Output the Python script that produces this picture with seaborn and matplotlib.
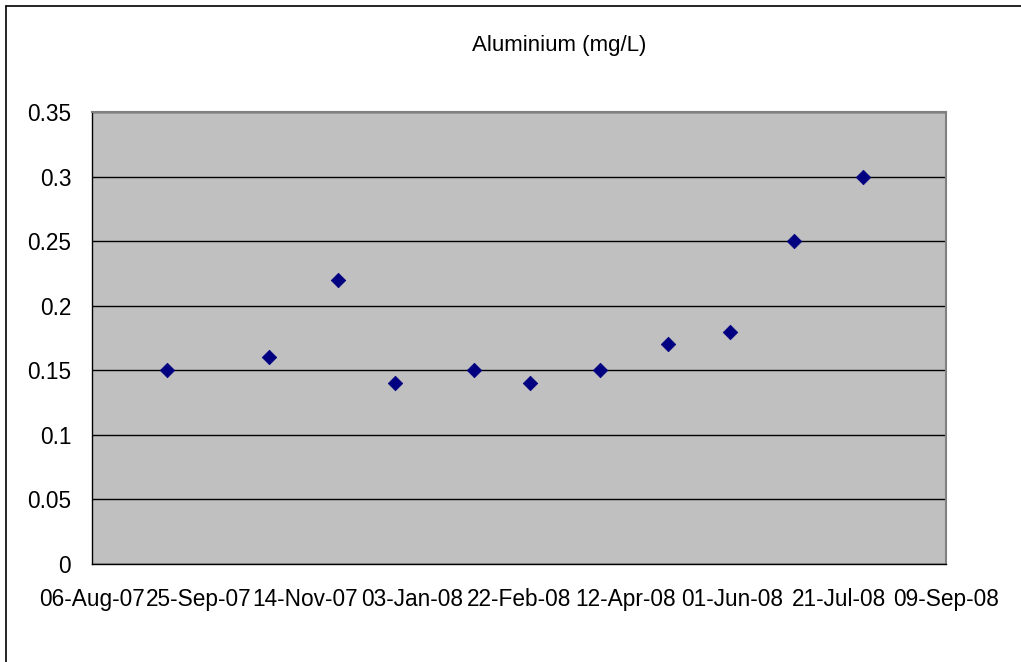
import matplotlib
matplotlib.use("Agg")
import matplotlib.pyplot as plt
import matplotlib.dates as mdates
import seaborn as sns
import pandas as pd
from matplotlib.lines import Line2D

sample_dates = ["2007-09-10", "2007-10-28", "2007-11-29", "2007-12-26", "2008-02-01",
                "2008-02-27", "2008-03-31", "2008-05-02", "2008-05-31", "2008-06-30",
                "2008-08-01"]
aluminium = [0.15, 0.16, 0.22, 0.14, 0.15, 0.14, 0.15, 0.17, 0.18, 0.25, 0.30]
x_tick_dates = ["2007-08-06", "2007-09-25", "2007-11-14", "2008-01-03", "2008-02-22",
                "2008-04-12", "2008-06-01", "2008-07-21", "2008-09-09"]
y_ticks = [0, 0.05, 0.1, 0.15, 0.2, 0.25, 0.3, 0.35]
y_tick_labels = ["0", "0.05", "0.1", "0.15", "0.2", "0.25", "0.3", "0.35"]
title = "Aluminium (mg/L)"

sns.set_style("white")
plt.rcParams['font.family'] = ['Liberation Sans', 'DejaVu Sans']

df = pd.DataFrame({"date": pd.to_datetime(sample_dates), "value": aluminium})
xt = pd.to_datetime(x_tick_dates)

fig = plt.figure(figsize=(10.21, 6.62), dpi=100)
ax = fig.add_axes([92/1021, 1-564/662, (946-92)/1021, (564-112)/662])
ax.set_facecolor("#C0C0C0")

ax.set_ylim(0, 0.35)
ax.set_yticks(y_ticks)
ax.set_yticklabels(y_tick_labels)
ax.set_xticks(list(xt))
ax.xaxis.set_major_formatter(mdates.DateFormatter("%d-%b-%y"))

ax.yaxis.grid(True, color="black", linewidth=1)
ax.xaxis.grid(False)
ax.set_axisbelow(True)

sns.scatterplot(data=df, x="date", y="value", marker="D", s=55, color="#000080",
                edgecolor="#000080", linewidth=0.5, ax=ax, zorder=3)
ax.set_xlabel("")
ax.set_ylabel("")

for side in ["top", "right"]:
    ax.spines[side].set_color("#808080")
    ax.spines[side].set_linewidth(1.5)
for side in ["left", "bottom"]:
    ax.spines[side].set_color("black")
    ax.spines[side].set_linewidth(1)

ax.tick_params(axis="both", direction="out", length=6, width=1, color="black",
               labelsize=16.3, labelcolor="black")
ax.tick_params(axis="y", pad=9)
ax.tick_params(axis="x", pad=11)
ax.set_xlim(xt[0], xt[-1])

fig.text(559/1021, 1-45/662, title, ha="center", va="center", fontsize=16, color="black")

# outer chart-area border (left and top visible)
fig.add_artist(Line2D([5.5/1021, 5.5/1021], [0, 1-5.5/662], transform=fig.transFigure,
                      color="black", linewidth=1.2))
fig.add_artist(Line2D([5.5/1021, 1], [1-5.5/662, 1-5.5/662], transform=fig.transFigure,
                      color="black", linewidth=1.2))

fig.savefig("out.png", dpi=100, facecolor="white")
